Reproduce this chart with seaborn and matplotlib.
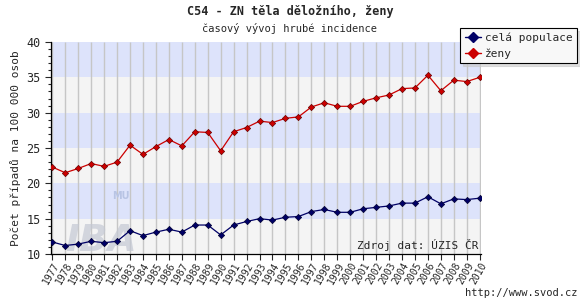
import matplotlib
matplotlib.use("Agg")
import matplotlib.pyplot as plt
import seaborn as sns
import pandas as pd
import numpy as np
from matplotlib.ticker import MultipleLocator
from matplotlib.lines import Line2D

years = list(range(1977, 2011))
cela_populace = [11.7, 11.2, 11.4, 11.8, 11.6, 11.8, 13.3, 12.6, 13.1, 13.5, 13.1, 14.1,
                 14.1, 12.7, 14.1, 14.6, 15.0, 14.8, 15.2, 15.3, 16.0, 16.3, 15.9, 15.9,
                 16.4, 16.6, 16.8, 17.2, 17.2, 18.1, 17.1, 17.8, 17.7, 17.9]
zeny = [22.3, 21.5, 22.1, 22.8, 22.4, 23.0, 25.4, 24.1, 25.2, 26.2, 25.3, 27.3,
        27.2, 24.6, 27.3, 27.9, 28.8, 28.6, 29.2, 29.4, 30.8, 31.4, 30.9, 30.9,
        31.6, 32.1, 32.5, 33.4, 33.5, 35.3, 33.1, 34.6, 34.4, 35.0]
series_names = ["celá populace", "ženy"]
title = "C54 - ZN těla děložního, ženy"
subtitle = "časový vývoj hrubé incidence"
ylabel = "Počet případů na 100 000 osob"
source = "Zdroj dat: ÚZIS ČR"
url = "http://www.svod.cz"

df = pd.DataFrame({"rok": years * 2,
                   "hodnota": cela_populace + zeny,
                   "serie": [series_names[0]] * len(years) + [series_names[1]] * len(years)})

sns.set_style("white")
plt.rcParams["font.family"] = ["DejaVu Sans Mono", "DejaVu Sans"]

fig = plt.figure(figsize=(5.8, 3.0), dpi=100)
ax = fig.add_axes([51 / 580, 1 - 254 / 300, 430 / 580, 212 / 300])

palette = {series_names[0]: "#000066", series_names[1]: "#cc0000"}
sns.lineplot(data=df, x="rok", y="hodnota", hue="serie", palette=palette, ax=ax,
             lw=0.9, legend=False, zorder=3)
for line, ec in zip(ax.lines, ["#000033", "#660000"]):
    line.set_marker("D")
    line.set_markersize(3.2)
    line.set_markeredgewidth(0.5)
    line.set_markeredgecolor(ec)

# bands and vertical grid
for lo in range(10, 40, 5):
    col = "#dde3fb" if ((lo - 10) // 5) % 2 == 1 else "#f4f4f4"
    ax.axhspan(lo, lo + 5, facecolor=col, zorder=0, lw=0)
ax.vlines(years, 10, 40, colors="#c6c6c6", lw=1.0, zorder=1)

ax.set_xlim(1976.9, 2010.1)
ax.set_ylim(10, 40)
ax.yaxis.set_major_locator(MultipleLocator(5))
ax.yaxis.set_minor_locator(MultipleLocator(1))
ax.set_xticks(years)
ax.set_xticklabels([str(y) for y in years], rotation=60, ha="right",
                   rotation_mode="anchor", fontsize=7)
ax.tick_params(axis="x", direction="out", length=4, width=0.8, pad=1, bottom=True)
ax.tick_params(axis="y", which="major", direction="out", length=4, width=0.8, labelsize=8.5, left=True)
ax.tick_params(axis="y", which="minor", direction="out", length=2.5, width=0.8, left=True)
for s in ["top", "right"]:
    ax.spines[s].set_visible(False)
for s in ["left", "bottom"]:
    ax.spines[s].set_color("black")
    ax.spines[s].set_linewidth(0.9)
ax.set_xlabel("")
ax.set_ylabel(ylabel, fontsize=8, labelpad=4)

# watermark
ax.text(1978.0, 10.4, "IBA", fontsize=27, fontweight="bold", style="italic",
        color="#c4c8d4", alpha=0.7, zorder=2, family="DejaVu Sans")
ax.text(1981.6, 17.8, "MU", fontsize=7, fontweight="bold", color="#b8c4e4", zorder=2,
        family="DejaVu Sans")

ax.text(2009.9, 10.4, source, ha="right", va="bottom", fontsize=8, zorder=4)

fig.text(0.5, 1 - 12 / 300, title, ha="center", va="center", fontsize=8.5, fontweight="bold")
fig.text(0.5, 1 - 29 / 300, subtitle, ha="center", va="center", fontsize=7.5)
fig.text(1 - 3 / 580, 2 / 300, url, ha="right", va="bottom", fontsize=7.5)

# legend
handles = [Line2D([], [], color=palette[n], marker="D", markersize=5, lw=1,
                  markeredgecolor=palette[n]) for n in series_names]
leg = fig.legend(handles, series_names, loc="upper right",
                 bbox_to_anchor=(1 - 3 / 580, 1 - 28 / 300), fontsize=8,
                 frameon=True, fancybox=False, shadow={"color": "#c8c8c8", "alpha": 0.6},
                 handlelength=1.5, handletextpad=0.3, borderpad=0.4, labelspacing=0.5,
                 borderaxespad=0)
leg.get_frame().set_edgecolor("black")
leg.get_frame().set_linewidth(0.8)
leg.get_frame().set_facecolor("#f8f8f8")

fig.savefig("out.png", dpi=100)
